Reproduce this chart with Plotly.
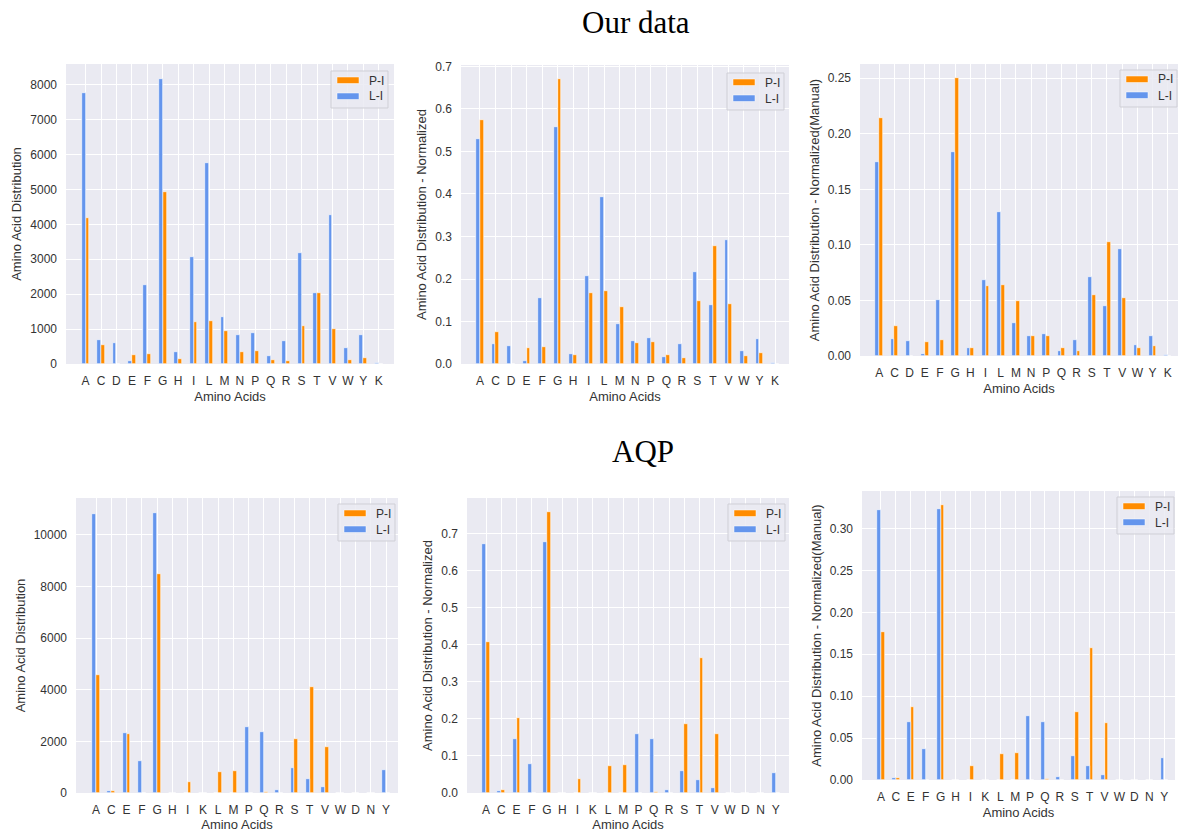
import plotly.graph_objects as go

# ---------------- data ----------------
cats_our = ["A", "C", "D", "E", "F", "G", "H", "I", "L", "M",
            "N", "P", "Q", "R", "S", "T", "V", "W", "Y", "K"]
cats_aqp = ["A", "C", "E", "F", "G", "H", "I", "K", "L", "M",
            "P", "Q", "R", "S", "T", "V", "W", "D", "N", "Y"]

our_count_PI = [4190, 536, 0, 268, 287, 4923, 153, 1216, 1245, 958,
                355, 360, 125, 77, 1082, 2021, 1015, 115, 172, 0]
our_count_LI = [7760, 690, 613, 96, 2270, 8160, 345, 3056, 5766, 1350,
                824, 900, 240, 661, 3170, 2021, 4262, 460, 843, 29]

our_norm_PI = [0.573, 0.075, 0.0, 0.037, 0.040, 0.670, 0.022, 0.168, 0.171, 0.134,
               0.050, 0.051, 0.021, 0.014, 0.149, 0.278, 0.141, 0.019, 0.025, 0.0]
our_norm_LI = [0.530, 0.048, 0.042, 0.006, 0.155, 0.557, 0.024, 0.208, 0.394, 0.094,
               0.055, 0.062, 0.016, 0.046, 0.216, 0.138, 0.292, 0.031, 0.058, 0.002]

our_man_PI = [0.214, 0.0274, 0.0, 0.0129, 0.0144, 0.2503, 0.0075, 0.0626, 0.0635, 0.0496,
              0.018, 0.0184, 0.0075, 0.0048, 0.055, 0.1029, 0.0523, 0.0069, 0.009, 0.0]
our_man_LI = [0.1748, 0.015, 0.0135, 0.0015, 0.0508, 0.184, 0.0075, 0.0686, 0.130, 0.030,
              0.018, 0.0196, 0.0045, 0.0144, 0.0707, 0.0451, 0.0963, 0.0096, 0.0184, 0.0006]

aqp_count_PI = [4568, 77, 2271, 0, 8490, 0, 420, 0, 810, 850,
                10, 40, 0, 2103, 4090, 1768, 0, 0, 0, 0]
aqp_count_LI = [10813, 90, 2335, 1252, 10852, 0, 0, 5, 0, 0,
                2568, 2361, 115, 955, 555, 219, 0, 0, 0, 890]

aqp_norm_PI = [0.408, 0.007, 0.203, 0.0, 0.758, 0.0, 0.038, 0.0, 0.072, 0.077,
               0.001, 0.004, 0.0, 0.187, 0.365, 0.159, 0.0, 0.0, 0.0, 0.0]
aqp_norm_LI = [0.673, 0.005, 0.147, 0.078, 0.677, 0.0, 0.0, 0.0003, 0.0, 0.0,
               0.160, 0.147, 0.007, 0.059, 0.034, 0.0135, 0.0, 0.0, 0.0, 0.055]

aqp_man_PI = [0.1765, 0.0028, 0.0873, 0.0, 0.328, 0.0, 0.0163, 0.0, 0.031, 0.0327,
              0.0004, 0.0012, 0.0, 0.0817, 0.1578, 0.0685, 0.0, 0.0, 0.0, 0.0]
aqp_man_LI = [0.3227, 0.0028, 0.0693, 0.037, 0.3235, 0.0, 0.0, 0.0001, 0.0, 0.0,
              0.0765, 0.0693, 0.0036, 0.0283, 0.0167, 0.0064, 0.0, 0.0, 0.0, 0.0263]

series_names = ["P-I", "L-I"]
x_title = "Amino Acids"
y_titles = ["Amino Acid Distribution",
            "Amino Acid Distribution - Normalized",
            "Amino Acid Distribution - Normalized(Manual)"]
section_titles = ["Our data", "AQP"]

# ---------------- style / layout ----------------
W, H = 1178, 832
ORANGE = "#FF8C00"
BLUE = "#6495ED"
BG = "#EAEAF2"
TXT = "#333333"
FONT = "Liberation Sans, Arial, sans-serif"


def px_x(p):
    return p / W


def px_y(p):
    return 1 - p / H


panels = [
    dict(cats=cats_our, pi=our_count_PI, li=our_count_LI, yt=y_titles[0],
         xpx=(66, 394), ypx=(64, 364), xr=(-1.27, 19.99), yr=(0, 8590),
         dtick=1000, fmt="d", leg=(331, 71)),
    dict(cats=cats_our, pi=our_norm_PI, li=our_norm_LI, yt=y_titles[1],
         xpx=(461, 789), ypx=(65, 364), xr=(-1.22, 19.9), yr=(0, 0.7035),
         dtick=0.1, fmt=".1f", leg=(727, 73)),
    dict(cats=cats_our, pi=our_man_PI, li=our_man_LI, yt=y_titles[2],
         xpx=(860, 1178), ypx=(64, 356), xr=(-1.27, 19.68), yr=(0, 0.2628),
         dtick=0.05, fmt=".2f", leg=(1120, 70)),
    dict(cats=cats_aqp, pi=aqp_count_PI, li=aqp_count_LI, yt=y_titles[0],
         xpx=(76, 398), ypx=(498, 793), xr=(-1.31, 19.78), yr=(0, 11420),
         dtick=2000, fmt="d", leg=(338, 504)),
    dict(cats=cats_aqp, pi=aqp_norm_PI, li=aqp_norm_LI, yt=y_titles[1],
         xpx=(467, 789), ypx=(498, 793), xr=(-1.25, 19.87), yr=(0, 0.797),
         dtick=0.1, fmt=".1f", leg=(728, 504)),
    dict(cats=cats_aqp, pi=aqp_man_PI, li=aqp_man_LI, yt=y_titles[2],
         xpx=(862, 1175), ypx=(491, 780), xr=(-1.27, 19.72), yr=(0, 0.3448),
         dtick=0.05, fmt=".2f", leg=(1117, 497)),
]

fig = go.Figure()
shapes = []
annotations = []

for i, p in enumerate(panels):
    n = i + 1
    xa = "x" if n == 1 else f"x{n}"
    ya = "y" if n == 1 else f"y{n}"
    xs = list(range(len(p["cats"])))
    fig.add_trace(go.Bar(
        x=xs, y=p["pi"], width=0.25, offset=0.0, name=series_names[0],
        marker=dict(color=ORANGE, line=dict(color="white", width=0.6)),
        xaxis=xa, yaxis=ya, showlegend=False,
        hovertemplate="%{y}<extra>P-I</extra>"))
    fig.add_trace(go.Bar(
        x=xs, y=p["li"], width=0.25, offset=-0.25, name=series_names[1],
        marker=dict(color=BLUE, line=dict(color="white", width=0.6)),
        xaxis=xa, yaxis=ya, showlegend=False,
        hovertemplate="%{y}<extra>L-I</extra>"))

    xkey = "xaxis" if n == 1 else f"xaxis{n}"
    ykey = "yaxis" if n == 1 else f"yaxis{n}"
    fig.update_layout({
        xkey: dict(
            domain=[px_x(p["xpx"][0]), px_x(p["xpx"][1])],
            range=list(p["xr"]), anchor=ya, automargin=False,
            tickmode="array", tickvals=xs, ticktext=p["cats"],
            showgrid=True, gridcolor="white", gridwidth=1,
            zeroline=False, showline=False, ticks="",
            ticklabelstandoff=8,
            tickfont=dict(size=12, color=TXT, family=FONT),
            title=dict(text=x_title, standoff=4,
                       font=dict(size=13, color=TXT, family=FONT)),
        ),
        ykey: dict(
            domain=[px_y(p["ypx"][1]), px_y(p["ypx"][0])],
            range=list(p["yr"]), anchor=xa, automargin=False,
            dtick=p["dtick"], tick0=0, tickformat=p["fmt"],
            showgrid=True, gridcolor="white", gridwidth=1,
            zeroline=False, showline=False, ticks="",
            ticklabelstandoff=8,
            tickfont=dict(size=12, color=TXT, family=FONT),
            title=dict(text=p["yt"], standoff=5,
                       font=dict(size=13, color=TXT, family=FONT)),
        ),
    })

    # manual legend (matplotlib style, wide patches)
    lx, ty = p["leg"]
    bw, bh = 57, 37
    shapes.append(dict(type="rect", xref="paper", yref="paper",
                       x0=px_x(lx), x1=px_x(lx + bw), y0=px_y(ty + bh), y1=px_y(ty),
                       fillcolor="rgba(234,234,242,0.85)",
                       line=dict(color="#CFCFD6", width=1), layer="above"))
    for k, (col, yoff) in enumerate([(ORANGE, 6), (BLUE, 22)]):
        shapes.append(dict(type="rect", xref="paper", yref="paper",
                           x0=px_x(lx + 6), x1=px_x(lx + 28),
                           y0=px_y(ty + yoff + 6.5), y1=px_y(ty + yoff),
                           fillcolor=col, line=dict(color="white", width=0.5),
                           layer="above"))
        annotations.append(dict(text=series_names[k], xref="paper", yref="paper",
                                x=px_x(lx + 36), y=px_y(ty + yoff + 3.5),
                                xanchor="left", yanchor="middle", showarrow=False,
                                font=dict(size=12, color=TXT, family=FONT)))

annotations.append(dict(text=section_titles[0], xref="paper", yref="paper",
                        x=px_x(636), y=px_y(23), xanchor="center", yanchor="middle",
                        showarrow=False,
                        font=dict(size=31, color="black",
                                  family="Liberation Serif, Times New Roman, serif")))
annotations.append(dict(text=section_titles[1], xref="paper", yref="paper",
                        x=px_x(643), y=px_y(452), xanchor="center", yanchor="middle",
                        showarrow=False,
                        font=dict(size=31, color="black",
                                  family="Liberation Serif, Times New Roman, serif")))

fig.update_layout(
    width=W, height=H,
    margin=dict(l=0, r=0, t=0, b=0, autoexpand=False),
    paper_bgcolor="white", plot_bgcolor=BG,
    barmode="overlay", bargap=0,
    showlegend=False,
    shapes=shapes, annotations=annotations,
    font=dict(family=FONT, color=TXT),
)

fig.write_html("out.html",
               config={"displayModeBar": False},
               post_script="document.body.style.margin='0';document.body.style.padding='0';")
